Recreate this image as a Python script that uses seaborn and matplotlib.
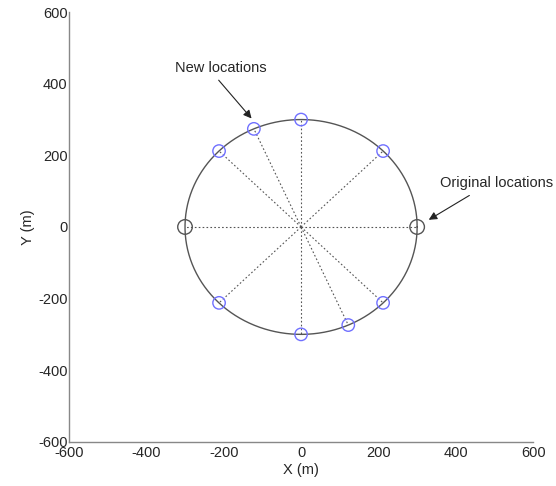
import numpy as np
import pandas as pd
import matplotlib
matplotlib.use('Agg')
import matplotlib.pyplot as plt
import seaborn as sns

# data
radius = 300
new_x = [0, 212, -212, -122, 0, 212, -212, 122]
new_y = [300, 212, 212, 274, -300, -212, -212, -274]
orig_x = [-300, 300]
orig_y = [0, 0]
ticks = [-600, -400, -200, 0, 200, 400, 600]

sns.set_style('white')
plt.rcParams['font.family'] = ['Liberation Sans', 'DejaVu Sans']
plt.rcParams['font.size'] = 10.5
plt.rcParams['axes.unicode_minus'] = False

fig = plt.figure(figsize=(5.56, 4.86), dpi=100)
ax = fig.add_axes([0.124, 0.091, 0.835, 0.884])

# dotted spokes from the centre
for x, y in zip(new_x + orig_x, new_y + orig_y):
    ax.plot([0, x], [0, y], color='#555555', linestyle=(0, (1.5, 2)), linewidth=0.8, zorder=1)

# circle
t = np.linspace(0, 2 * np.pi, 400)
circ = pd.DataFrame({'x': radius * np.cos(t), 'y': radius * np.sin(t)})
sns.lineplot(data=circ, x='x', y='y', sort=False, estimator=None, errorbar=None,
             color='#555555', linewidth=1.0, ax=ax, zorder=2)

new_df = pd.DataFrame({'x': new_x, 'y': new_y})
orig_df = pd.DataFrame({'x': orig_x, 'y': orig_y})
sns.scatterplot(data=new_df, x='x', y='y', ax=ax, s=80, facecolor='none',
                edgecolor='#7070ff', linewidth=1.0, zorder=3)
sns.scatterplot(data=orig_df, x='x', y='y', ax=ax, s=110, facecolor='none',
                edgecolor='#555555', linewidth=1.0, zorder=3)

# labels and arrows
ax.text(-208, 444, 'New locations', ha='center', va='center', fontsize=10.5)
ax.annotate('', xy=(-128, 303), xytext=(-213, 410), annotation_clip=False,
            arrowprops=dict(arrowstyle='-|>', color='#222222', lw=0.8,
                            shrinkA=0, shrinkB=0, mutation_scale=12))
ax.text(505, 122, 'Original locations', ha='center', va='center', fontsize=10.5, clip_on=False)
ax.annotate('', xy=(330, 20), xytext=(435, 88), annotation_clip=False,
            arrowprops=dict(arrowstyle='-|>', color='#222222', lw=0.8,
                            shrinkA=0, shrinkB=0, mutation_scale=12))

ax.set_xlim(-600, 600)
ax.set_ylim(-600, 600)
ax.set_xticks(ticks)
ax.set_yticks(ticks)
ax.set_xlabel('X (m)', labelpad=2)
ax.set_ylabel('Y (m)', labelpad=2)
sns.despine(ax=ax)
for s in ['left', 'bottom']:
    ax.spines[s].set_color('#888888')
    ax.spines[s].set_linewidth(1.0)
ax.tick_params(direction='in', length=4, color='#888888', pad=1, labelsize=10.5)
ax.tick_params(axis='x', pad=3)

fig.savefig('out.png', dpi=100)
